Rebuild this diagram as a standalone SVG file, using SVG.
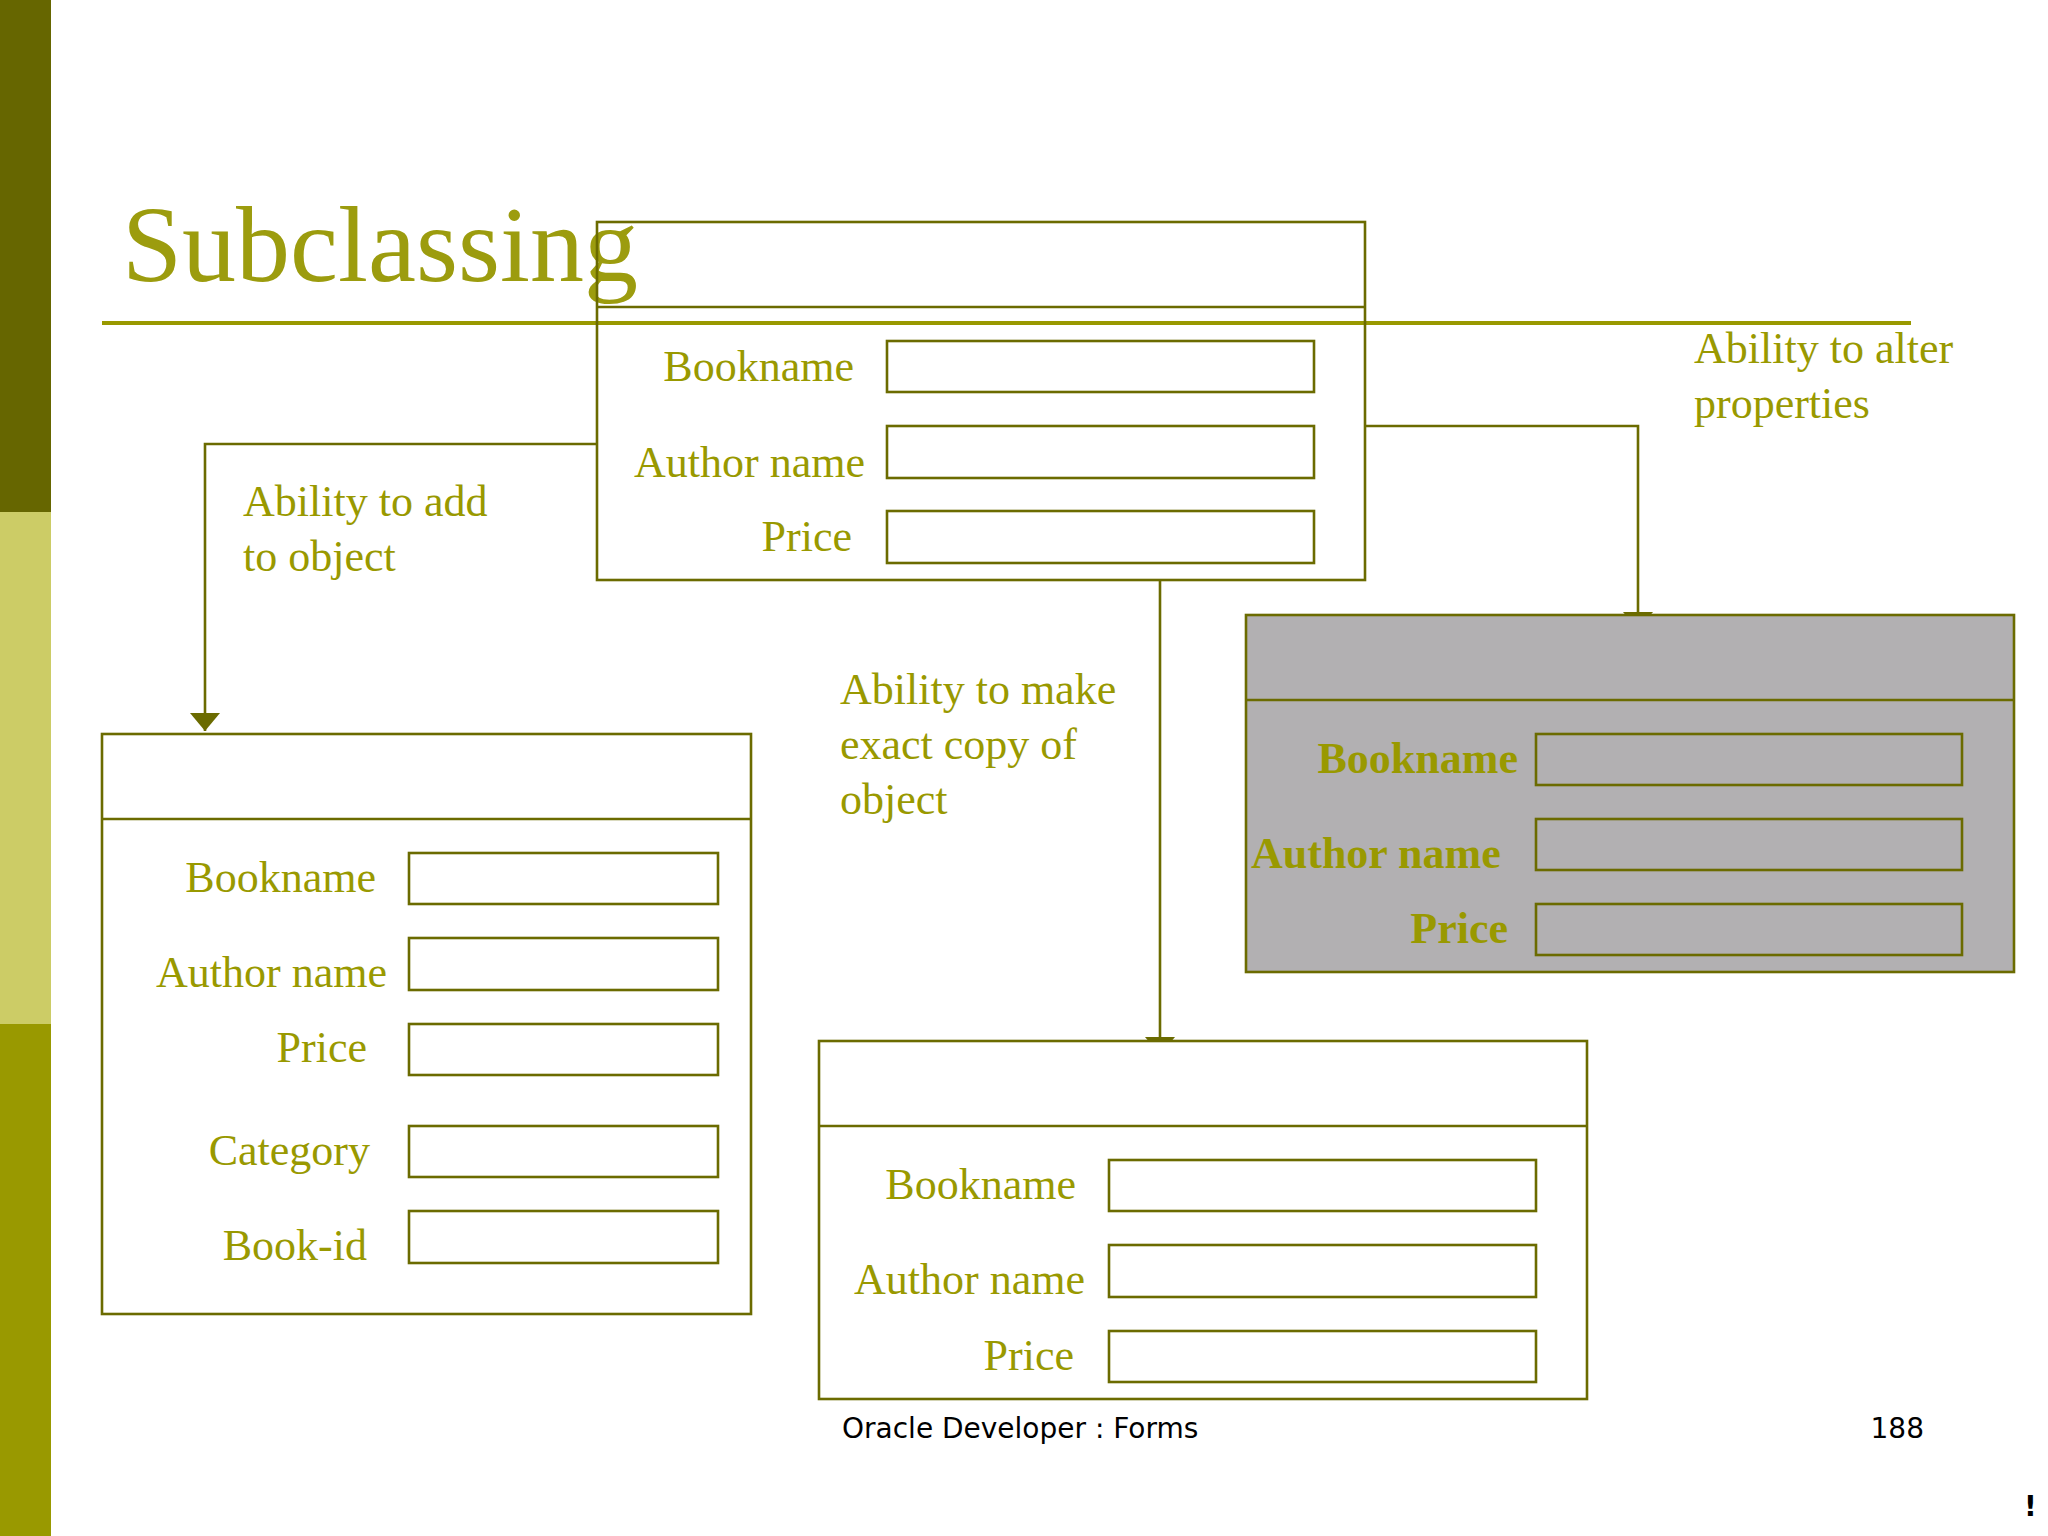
<svg xmlns="http://www.w3.org/2000/svg" width="2048" height="1536" viewBox="0 0 2048 1536">
<style>
.b{fill:#fff;stroke:#6b6b00;stroke-width:2.6}
.g{fill:#b2b0b2;stroke:#6b6b00;stroke-width:2.6}
.f{fill:none;stroke:#6b6b00;stroke-width:2.6}
.c{fill:none;stroke:#6b6b00;stroke-width:2.6}
.t{font-family:"Liberation Serif",serif;font-size:44px;fill:#999900}
.r{text-anchor:end}
.bd{font-weight:bold}
.ft{font-family:"DejaVu Sans",sans-serif;font-size:28px;fill:#000}
</style>
<defs><marker id="a" markerWidth="10" markerHeight="8" refX="5" refY="8" orient="auto" markerUnits="userSpaceOnUse" viewBox="0 0 10 8"><path d="M0,0 L10,0 L5,8z" fill="#6b6b00" transform="scale(1)"/></marker>
<marker id="ah" markerWidth="30" markerHeight="18" refX="15" refY="18" markerUnits="userSpaceOnUse"><path d="M0,0 L30,0 L15,18z" fill="#6b6b00"/></marker></defs>
<rect width="2048" height="1536" fill="#fff"/>
<rect x="0" y="0" width="51" height="512" fill="#666600"/>
<rect x="0" y="512" width="51" height="512" fill="#cccc66"/>
<rect x="0" y="1024" width="51" height="512" fill="#999900"/>
<text x="122" y="281" font-family="Liberation Serif,serif" font-size="108" fill="#9c9c0e">Subclassing</text>
<line x1="102" y1="323" x2="1911" y2="323" stroke="#999900" stroke-width="4"/>
<g id="connectors">
<polyline class="c" points="597,444 205,444 205,731" marker-end="url(#ah)"/>
<polyline class="c" points="1160,580 1160,1055" marker-end="url(#ah)"/>
<polyline class="c" points="1365,426 1638,426 1638,630" marker-end="url(#ah)"/>
</g>
<g id="top">
<rect class="b" x="597" y="222" width="768" height="358" fill-opacity="0"/>
<line class="f" x1="597" y1="307" x2="1365" y2="307"/>
<rect class="f" x="887" y="341" width="427" height="51"/>
<rect class="f" x="887" y="426" width="427" height="52"/>
<rect class="f" x="887" y="511" width="427" height="52"/>
<text class="t r" x="854" y="381">Bookname</text>
<text class="t r" x="865" y="477">Author name</text>
<text class="t r" x="852" y="551">Price</text>
</g>
<g id="left">
<rect class="b" x="102" y="734" width="649" height="580"/>
<line class="f" x1="102" y1="819" x2="751" y2="819"/>
<rect class="f" x="409" y="853" width="309" height="51"/>
<rect class="f" x="409" y="938" width="309" height="52"/>
<rect class="f" x="409" y="1024" width="309" height="51"/>
<rect class="f" x="409" y="1126" width="309" height="51"/>
<rect class="f" x="409" y="1211" width="309" height="52"/>
<text class="t r" x="376" y="892">Bookname</text>
<text class="t r" x="387" y="987">Author name</text>
<text class="t r" x="367" y="1062">Price</text>
<text class="t r" x="370" y="1165">Category</text>
<text class="t r" x="367" y="1260">Book-id</text>
</g>
<g id="bottom">
<rect class="b" x="819" y="1041" width="768" height="358"/>
<line class="f" x1="819" y1="1126" x2="1587" y2="1126"/>
<rect class="f" x="1109" y="1160" width="427" height="51"/>
<rect class="f" x="1109" y="1245" width="427" height="52"/>
<rect class="f" x="1109" y="1331" width="427" height="51"/>
<text class="t r" x="1076" y="1199">Bookname</text>
<text class="t r" x="1085" y="1294">Author name</text>
<text class="t r" x="1074" y="1370">Price</text>
</g>
<g id="right">
<rect class="g" x="1246" y="615" width="768" height="357"/>
<line class="f" x1="1246" y1="700" x2="2014" y2="700"/>
<rect class="f" x="1536" y="734" width="426" height="51"/>
<rect class="f" x="1536" y="819" width="426" height="51"/>
<rect class="f" x="1536" y="904" width="426" height="51"/>
<text class="t r bd" x="1518" y="773">Bookname</text>
<text class="t bd" x="1251" y="868">Author name</text>
<text class="t r bd" x="1508" y="943">Price</text>
</g>
<g id="labels">
<text class="t" x="243" y="516">Ability to add</text>
<text class="t" x="243" y="571">to object</text>
<text class="t" x="840" y="704">Ability to make</text>
<text class="t" x="840" y="759">exact copy of</text>
<text class="t" x="840" y="814">object</text>
<text class="t" x="1694" y="363">Ability to alter</text>
<text class="t" x="1694" y="418">properties</text>
</g>
<text class="ft" x="842" y="1438">Oracle Developer : Forms</text>
<text class="ft" x="1924" y="1438" text-anchor="end">188</text>
<text class="ft" x="2024" y="1516" font-weight="bold">!</text>
</svg>
